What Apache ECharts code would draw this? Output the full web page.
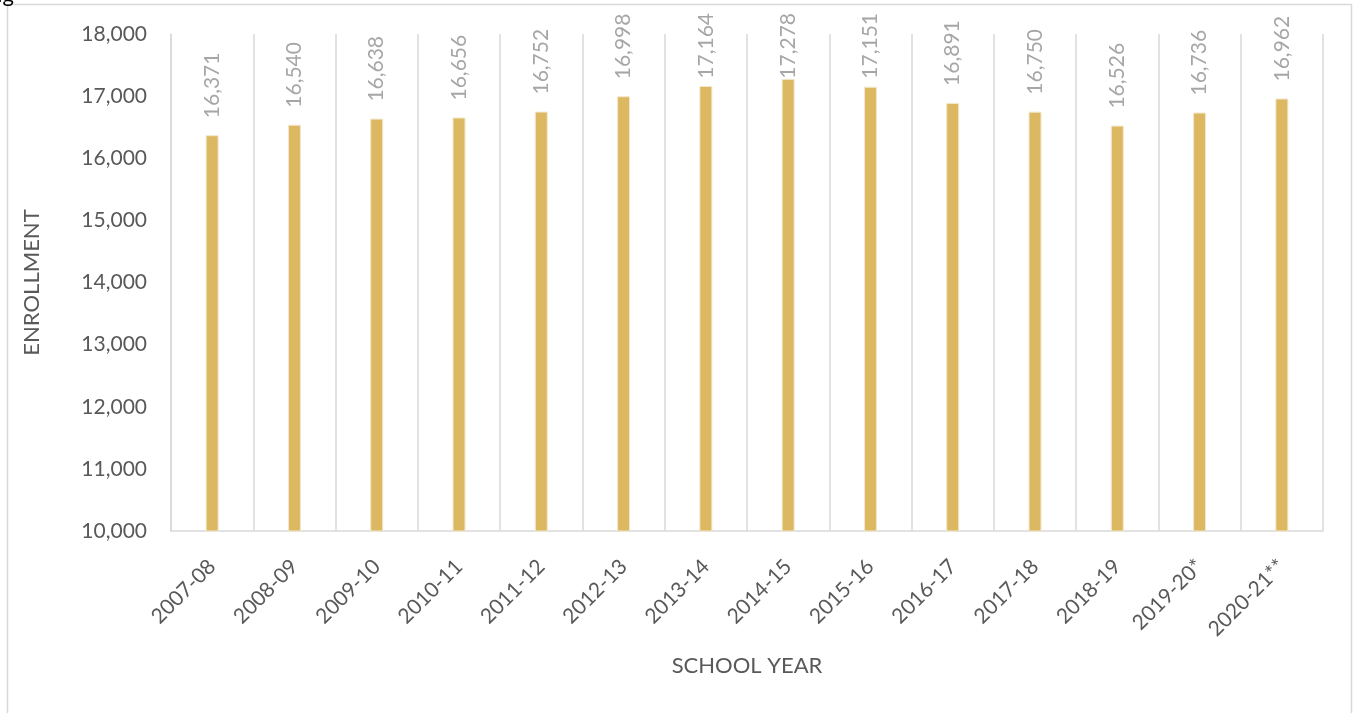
<!DOCTYPE html>
<html>
<head>
<meta charset="utf-8">
<script src="https://cdn.jsdelivr.net/npm/echarts@6/dist/echarts.min.js"></script>
<style>
html,body{margin:0;padding:0;background:#fff;}
#chart{width:1353px;height:713px;}
</style>
</head>
<body>
<div id="chart"></div>
<script>
const categories = ['2007-08','2008-09','2009-10','2010-11','2011-12','2012-13','2013-14','2014-15','2015-16','2016-17','2017-18','2018-19','2019-20*','2020-21**'];
const enrollment = [16371,16540,16638,16656,16752,16998,17164,17278,17151,16891,16750,16526,16736,16962];
const yMin = 10000, yMax = 18000, yStep = 1000;
const yAxisName = 'ENROLLMENT';
const xAxisName = 'SCHOOL YEAR';
const topText = 'Fig';

const FONT = 'Lato, "Open Sans", sans-serif';
const LABEL_TOP_LIMIT = 13;
const chart = echarts.init(document.getElementById('chart'));
chart.setOption({
  backgroundColor: '#fff',
  animation: false,
  graphic: [
    {type:'rect', shape:{x:7.5,y:4.5,width:1344,height:760}, style:{fill:'none', stroke:'#d9d9d9', lineWidth:1.5}, silent:true},
    {type:'text', x:14, y:6, style:{text:topText, font:'22px ' + FONT, fill:'#000', align:'right', verticalAlign:'bottom'}, silent:true}
  ],
  grid: {left: 171, right: 30, top: 34, bottom: 182, containLabel: false},
  xAxis: {
    type: 'category',
    data: categories,
    name: xAxisName,
    nameLocation: 'middle',
    nameGap: 124,
    nameTextStyle: {color:'#595959', fontSize:22, fontFamily: FONT},
    axisLine: {show:true, lineStyle:{color:'#d9d9d9', width:1.5}},
    axisTick: {show:false},
    splitLine: {show:true, lineStyle:{color:'#d9d9d9', width:1.5}},
    axisLabel: {rotate:45, color:'#595959', fontSize:21, fontFamily: FONT, margin: 32, interval:0}
  },
  yAxis: {
    type: 'value',
    min: yMin, max: yMax, interval: yStep,
    name: yAxisName,
    nameLocation: 'middle',
    nameGap: 128,
    nameRotate: 90,
    nameTextStyle: {color:'#595959', fontSize:22, fontFamily: FONT},
    axisLine: {show:true, lineStyle:{color:'#d9d9d9', width:1.5}},
    axisTick: {show:false},
    splitLine: {show:false},
    axisLabel: {color:'#595959', fontSize:21, fontFamily: FONT, margin: 24,
      formatter: v => v.toLocaleString('en-US')}
  },
  series: [{
    type: 'bar',
    data: enrollment,
    barWidth: 13,
    itemStyle: {color:'#ddb863', borderColor:'#f3e8cc', borderWidth:1},
    label: {
      show: true, position: 'top', rotate: 90, align: 'left', verticalAlign: 'middle',
      distance: 17, color:'#a6a6a6', fontSize:21, fontFamily: FONT,
      formatter: p => p.value.toLocaleString('en-US')
    },
    labelLayout: function (params) {
      const r = params.labelRect;
      return { dx: -Math.max(0, LABEL_TOP_LIMIT - r.y) };
    }
  }]
});
</script>
</body>
</html>
